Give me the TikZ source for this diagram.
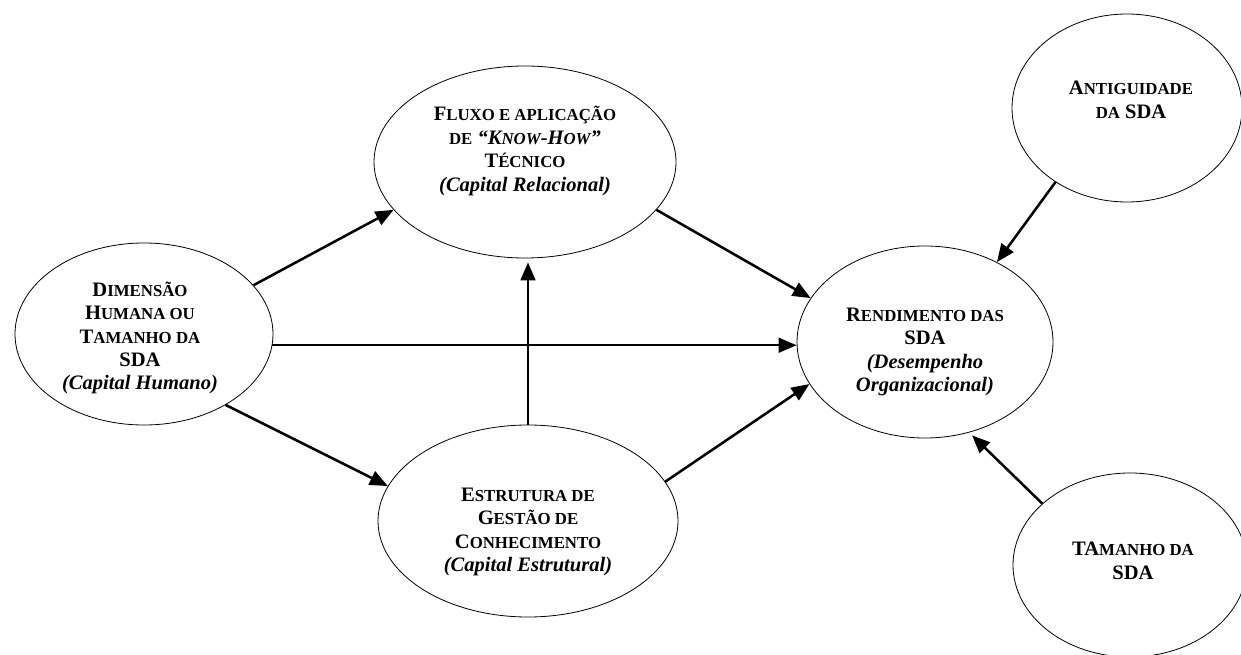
\documentclass[tikz,border=0pt]{standalone}
\usepackage{fontspec}
\setmainfont{Liberation Serif}
\usetikzlibrary{shapes.geometric,arrows.meta}
% reduced capitals for the small-caps look
\newcommand\smc[1]{{\fontsize{12.6}{17.6}\selectfont #1}}
\begin{document}
\begin{tikzpicture}[x=0.75pt,y=-0.75pt,
  oval/.style 2 args={ellipse, draw, line width=0.6pt, inner sep=0pt,
    minimum width=#1, minimum height=#2},
  label text/.style={align=center, inner sep=0pt,
    font=\fontsize{15.4}{17.6}\selectfont\bfseries},
  link/.style={line width=1.9pt, -{Triangle[length=13.5pt,width=11pt]}}]
\useasboundingbox (0,0) rectangle (1241,655);

% constructs
\node[oval={193.5pt}{136.5pt}] (dim)  at (144,334) {};
\node[oval={226.5pt}{144pt}]   (flux) at (525,162) {};
\node[oval={225pt}{144pt}]     (est)  at (528,521) {};
\node[oval={192pt}{144pt}]     (rend) at (925,342) {};
\node[oval={172.5pt}{141pt}]   (ant)  at (1127,108) {};
\node[oval={175.5pt}{138pt}]   (tam)  at (1130,565) {};

% their labels
\node[label text] (dimtxt) at (140,338)
  {D\smc{IMENSÃO}\\H\smc{UMANA OU}\\T\smc{AMANHO DA}\\SDA\\\textit{(Capital Humano)}};
\node[label text] (fluxtxt) at (525,151)
  {F\smc{LUXO E APLICAÇÃO}\\\smc{DE} \textit{“K\smc{NOW}-H\smc{OW}”}\\T\smc{ÉCNICO}\\\textit{(Capital Relacional)}};
\node[label text] (esttxt) at (528,532)
  {E\smc{STRUTURA DE}\\G\smc{ESTÃO DE}\\C\smc{ONHECIMENTO}\\\textit{(Capital Estrutural)}};
\node[label text] (rendtxt) at (925,352)
  {R\smc{ENDIMENTO DAS}\\SDA\\\textit{(Desempenho}\\\textit{Organizacional)}};
\node[label text] (anttxt) at (1131,100)
  {A\smc{NTIGUIDADE}\\\smc{DA} SDA};
\node[label text] (tamtxt) at (1133,561)
  {TA\smc{MANHO DA}\\SDA};

% relations
\draw[link] (dim.24) -- (flux.200);
\draw[link] (dim.-5) -- (dim.-5 -| rend.west);
\draw[link] (dim.-41) -- (est.166);
\draw[link, shorten >=3pt] (est.north) -- (est.north |- flux.south);
\draw[link] (flux.-20) -- (rend.159);
\draw[link] (est.16) -- (rend.200);
\draw[link] (ant.226) -- (rend.48);
\draw[link, shorten >=3pt] (tam.145) -- (rend.-64);
\end{tikzpicture}
\end{document}
